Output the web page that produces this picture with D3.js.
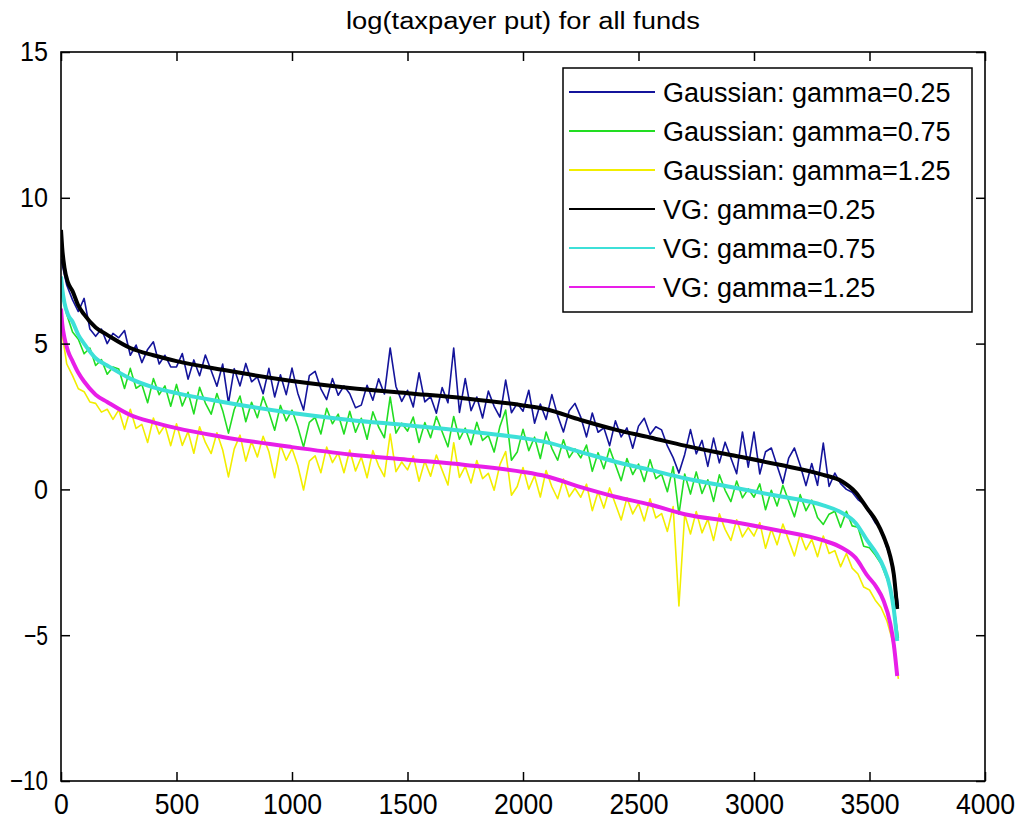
<!DOCTYPE html>
<html><head><meta charset="utf-8">
<script src="https://cdn.jsdelivr.net/npm/d3@7"></script>
<style>
body{margin:0;background:#fff;}
svg{display:block;}
text{font-family:"Liberation Sans",Arial,sans-serif;fill:#000;}
</style>
</head><body>
<svg id="chart" width="1023" height="820"></svg>
<script>
// ---------------- data ----------------
const chartTitle = "log(taxpayer put) for all funds";
const xTicks = [0, 500, 1000, 1500, 2000, 2500, 3000, 3500, 4000];
const yTicks = [-10, -5, 0, 5, 10, 15];
const seriesNames = ["Gaussian: gamma=0.25", "Gaussian: gamma=0.75", "Gaussian: gamma=1.25",
                     "VG: gamma=0.25", "VG: gamma=0.75", "VG: gamma=1.25"];
const seriesColors = ["#14149b", "#22dd22", "#f2ee00", "#000000", "#3de0d8", "#e81ee8"];

// Gaussian series sampled every 25 funds (fund index 0..3625)
const gaussX = d3.range(0, 3626, 25);
const gauss025 = [
 7.9, 7.0, 6.5, 6.1, 6.55, 5.5, 5.25, 5.5, 5.0, 5.35,
 5.2, 5.45, 4.6, 4.95, 4.35, 4.8, 5.06, 4.3, 4.6, 4.2,
 4.2, 4.66, 3.78, 4.44, 3.9, 4.61, 4.08, 3.54, 4.3, 2.96,
 4.14, 3.55, 4.32, 3.69, 3.86, 3.28, 4.15, 3.17, 3.93, 3.25,
 4.16, 3.3, 2.72, 3.9, 4.05, 3.45, 3.08, 3.8, 3.23, 3.55,
 3.28, 2.8, 2.89, 3.57, 3.06, 3.79, 3.27, 4.85, 3.53, 3.02,
 3.4, 2.83, 4.0, 3.0, 3.18, 2.61, 3.49, 2.97, 4.85, 2.64,
 3.8, 2.7, 3.17, 2.45, 3.37, 2.85, 2.48, 3.75, 2.63, 2.95,
 2.68, 3.4, 2.27, 2.93, 2.4, 3.25, 2.53, 1.97, 2.7, 2.95,
 2.48, 1.8, 2.62, 1.96, 2.11, 1.5, 2.35, 1.8, 2.11, 1.41,
 2.17, 2.44, 1.88, 2.15, 2.04, 1.49, 1.09, 0.56, 1.2, 2.05,
 1.22, 1.68, 0.79, 1.76, 0.91, 1.62, 1.08, 0.54, 1.97, 0.76,
 1.97, 0.53, 1.29, 1.42, 0.81, 0.21, 1.07, 1.42, 0.83, 0.13,
 0.89, 0.14, 1.59, 0.1, 0.56, 0.2, 0.0, -0.1, -0.35, -0.5,
 -0.8, -1.15, -1.35, -2.0, -2.55, -4.0
];
const gauss075 = [
 6.8, 6.0, 5.4, 5.15, 4.65, 4.85, 4.25, 4.45, 3.95, 4.2,
 4.13, 3.46, 4.15, 3.47, 3.6, 2.97, 3.8, 3.25, 3.55, 2.85,
 3.6, 2.86, 3.33, 2.59, 3.5, 2.96, 2.58, 3.29, 2.7, 1.93,
 2.74, 3.2, 2.32, 2.99, 2.46, 3.18, 2.65, 2.03, 2.88, 2.35,
 2.72, 2.15, 1.45, 2.3, 2.47, 1.9, 2.78, 2.25, 2.58, 1.9,
 2.68, 1.96, 2.44, 1.72, 2.66, 2.14, 1.77, 3.17, 1.93, 2.27,
 2.0, 2.48, 1.61, 2.29, 1.77, 2.5, 1.98, 1.46, 2.5, 1.72,
 2.1, 1.53, 2.3, 1.68, 1.85, 1.28, 2.16, 2.72, 1.0, 1.28,
 2.06, 1.33, 1.79, 1.06, 1.97, 1.41, 1.0, 1.7, 1.09, 1.39,
 1.08, 1.52, 0.62, 1.26, 0.71, 1.4, 0.85, 0.3, 1.06, 0.51,
 0.87, 0.27, 1.02, 0.37, 0.52, -0.08, 0.78, -0.85, 0.53, -0.16,
 0.6, -0.14, 0.33, -0.41, 0.5, -0.03, -0.42, 0.29, -0.29, 0.02,
 -0.27, 0.19, -0.7, -0.03, -0.57, 0.14, -0.4, -0.94, -0.18, -0.73,
 -0.37, -0.96, -1.2, -0.85, -0.75, -1.3, -0.75, -1.25, -1.3, -1.95,
 -2.0, -2.25, -2.55, -3.05, -3.7, -5.1
];
const gauss125 = [
 5.6, 4.3, 3.9, 3.45, 3.35, 3.0, 2.95, 2.65, 2.75, 2.4,
 2.73, 2.06, 2.75, 2.09, 2.23, 1.61, 2.45, 1.9, 2.2, 1.5,
 2.25, 1.51, 1.98, 1.24, 2.15, 1.61, 1.23, 1.94, 1.35, 0.43,
 1.39, 1.86, 0.97, 1.64, 1.11, 1.82, 1.29, 0.4, 1.53, 1.0,
 1.4, 0.82, -0.02, 0.97, 1.15, 0.57, 1.45, 0.92, 1.25, 0.57,
 1.35, 0.63, 1.11, 0.4, 1.33, 0.81, 0.44, 1.9, 0.61, 0.94,
 0.67, 1.15, 0.28, 0.97, 0.45, 1.18, 0.66, 0.15, 1.6, 0.41,
 0.79, 0.22, 0.99, 0.37, 0.55, -0.03, 0.85, 1.3, -0.2, 0.1,
 0.75, 0.01, 0.47, -0.26, 0.65, 0.09, -0.32, 0.36, -0.25, 0.04,
 -0.27, 0.18, -0.73, -0.08, -0.64, 0.05, -0.5, -1.05, -0.29, -0.84,
 -0.48, -1.08, -0.32, -0.98, -0.83, -1.44, -0.59, -4.0, -0.85, -1.53,
 -0.76, -1.49, -1.02, -1.75, -0.84, -1.37, -1.75, -1.04, -1.63, -1.31,
 -1.6, -1.14, -2.02, -1.36, -1.9, -1.19, -1.74, -2.28, -1.53, -2.07,
 -1.71, -2.31, -1.6, -2.2, -2.1, -2.65, -2.2, -2.7, -2.9, -3.35,
 -3.45, -3.8, -4.05, -4.5, -5.2, -6.5
];

// VG series (smooth), read at these fund indices
const vgX = [0, 5, 15, 30, 50, 75, 100, 150, 200, 300, 400, 500, 700, 1000, 1250, 1500, 1750,
             2000, 2100, 2250, 2400, 2550, 2700, 2900, 3100, 3300, 3380, 3440, 3490, 3530, 3560, 3590, 3605, 3620];
const vg025 = [8.9, 8.3, 7.6, 7.1, 6.8, 6.3, 6.0, 5.55, 5.3, 4.85, 4.6, 4.4, 4.1, 3.72, 3.48, 3.3, 3.12,
               2.88, 2.75, 2.38, 2.05, 1.78, 1.5, 1.18, 0.86, 0.5, 0.28, -0.1, -0.65, -1.1, -1.6, -2.3, -2.9, -4.1];
const vg075 = [7.3, 6.9, 6.4, 6.0, 5.75, 5.3, 5.0, 4.5, 4.25, 3.8, 3.5, 3.3, 3.0, 2.62, 2.38, 2.2, 2.0,
               1.76, 1.62, 1.28, 0.95, 0.67, 0.38, 0.08, -0.22, -0.55, -0.8, -1.15, -1.75, -2.2, -2.65, -3.4, -4.1, -5.2];
const vg125 = [6.2, 5.7, 5.2, 4.75, 4.4, 4.0, 3.7, 3.25, 3.0, 2.55, 2.3, 2.1, 1.8, 1.45, 1.2, 1.02, 0.84,
               0.6, 0.45, 0.08, -0.25, -0.52, -0.85, -1.1, -1.4, -1.75, -2.0, -2.35, -2.95, -3.35, -3.8, -4.6, -5.3, -6.4];

// ---------------- drawing ----------------
const svg = d3.select("#chart");
const L = 61, R = 985, T = 52, B = 781;
const x = d3.scaleLinear().domain([0, 4000]).range([L, R]);
const y = d3.scaleLinear().domain([-10, 15]).range([B, T]);

svg.append("rect").attr("width", 1023).attr("height", 820).attr("fill", "#fff");

svg.append("defs").append("clipPath").attr("id", "clip")
  .append("rect").attr("x", L).attr("y", T).attr("width", R - L).attr("height", B - T);

const series = [
  {xs: gaussX, ys: gauss025, smooth: false},
  {xs: gaussX, ys: gauss075, smooth: false},
  {xs: gaussX, ys: gauss125, smooth: false},
  {xs: vgX, ys: vg025, smooth: true},
  {xs: vgX, ys: vg075, smooth: true},
  {xs: vgX, ys: vg125, smooth: true}
];

const plot = svg.append("g").attr("clip-path", "url(#clip)");
series.forEach((s, i) => {
  const pts = s.xs.map((xv, k) => [xv, s.ys[k]]);
  const line = d3.line().x(d => x(d[0])).y(d => y(d[1]))
    .curve(s.smooth ? d3.curveMonotoneX : d3.curveLinear);
  plot.append("path").datum(pts)
    .attr("d", line)
    .attr("fill", "none")
    .attr("stroke", seriesColors[i])
    .attr("stroke-width", s.smooth ? 4 : 1.6)
    .attr("stroke-linejoin", "round");
});

// axes (ticks inside on all four sides)
const styleAxis = g => {
  g.select(".domain").remove();
  g.selectAll(".tick line").attr("stroke", "#000").attr("stroke-width", 1.5);
};
svg.append("g").attr("transform", `translate(0,${B})`)
  .call(d3.axisBottom(x).tickValues(xTicks).tickSizeInner(-9).tickSizeOuter(0).tickPadding(12).tickFormat(d3.format("d")))
  .call(styleAxis)
  .call(g => g.selectAll("text").attr("font-size", 29).attr("font-family", "Liberation Sans, Arial, sans-serif")
     .attr("textLength", d => String(d).length * 14.8).attr("lengthAdjust", "spacingAndGlyphs"));
svg.append("g").attr("transform", `translate(0,${T})`)
  .call(d3.axisTop(x).tickValues(xTicks).tickSizeInner(-9).tickSizeOuter(0).tickFormat(""))
  .call(styleAxis);
svg.append("g").attr("transform", `translate(${L},0)`)
  .call(d3.axisLeft(y).tickValues(yTicks).tickSizeInner(-9).tickSizeOuter(0).tickPadding(13).tickFormat(d3.format("d")))
  .call(styleAxis)
  .call(g => g.selectAll("text").attr("font-size", 28).attr("font-family", "Liberation Sans, Arial, sans-serif")
     .attr("textLength", d => { const s = String(d); return (s.startsWith("-") ? 10 : 0) + s.replace("-", "").length * 14; })
     .attr("lengthAdjust", "spacingAndGlyphs"));
svg.append("g").attr("transform", `translate(${R},0)`)
  .call(d3.axisRight(y).tickValues(yTicks).tickSizeInner(-9).tickSizeOuter(0).tickFormat(""))
  .call(styleAxis);

svg.append("rect").attr("x", L).attr("y", T).attr("width", R - L).attr("height", B - T)
  .attr("fill", "none").attr("stroke", "#000").attr("stroke-width", 1.6);

// title
svg.append("text").attr("x", (L + R) / 2).attr("y", 29).attr("text-anchor", "middle")
  .attr("font-size", 23).attr("textLength", 354).attr("lengthAdjust", "spacingAndGlyphs")
  .text(chartTitle);

// legend
const lg = svg.append("g");
lg.append("rect").attr("x", 563).attr("y", 68).attr("width", 409).attr("height", 244)
  .attr("fill", "#fff").attr("stroke", "#000").attr("stroke-width", 1.5);
seriesNames.forEach((name, i) => {
  const cy = 92 + i * 39;
  lg.append("line").attr("x1", 569).attr("x2", 655).attr("y1", cy).attr("y2", cy)
    .attr("stroke", seriesColors[i]).attr("stroke-width", 2);
  lg.append("text").attr("x", 663).attr("y", cy + 9.5).attr("font-size", 27).text(name);
});
</script>
</body></html>
